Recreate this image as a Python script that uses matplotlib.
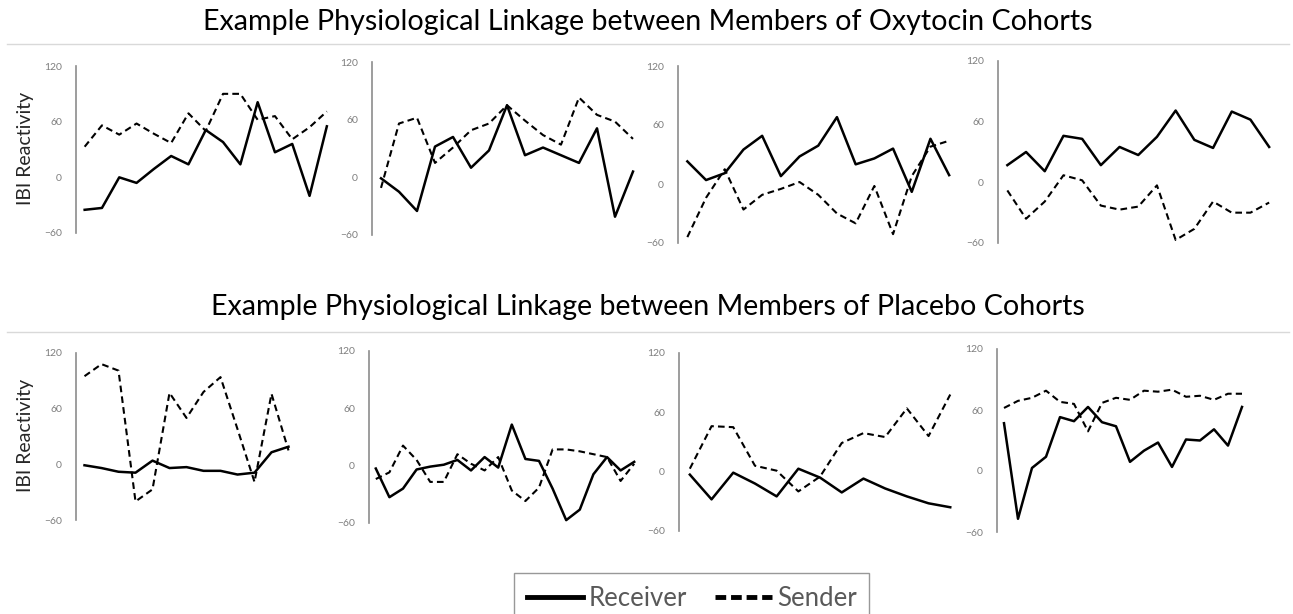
import matplotlib.pyplot as plt
from matplotlib.lines import Line2D

W, H, DPI = 1293, 614, 100
plt.rcParams['font.family'] = ['Lato', 'DejaVu Sans']

# Oxytocin cohorts (top row)
p1_receiver = [-35, -33, 0, -6, 9, 23, 14, 51, 38, 14, 81, 27, 36, -20, 55]
p1_sender = [33, 56, 46, 58, 47, 37, 69, 50, 90, 90, 62, 66, 41, 54, 71]
p2_receiver = [-1, -15, -35, 32, 42, 10, 28, 75, 23, 31, 23, 15, 51, -41, 6]
p2_sender = [-11, 56, 62, 15, 31, 49, 56, 75, 59, 44, 34, 83, 65, 58, 40]
p3_receiver = [23, 4, 11, 35, 49, 8, 28, 39, 68, 20, 26, 36, -8, 46, 9]
p3_sender = [-54, -14, 15, -26, -11, -5, 2, -11, -30, -40, -2, -51, 8, 38, 44]
p4_receiver = [17, 30, 11, 46, 43, 17, 35, 27, 45, 71, 42, 34, 70, 62, 35]
p4_sender = [-8, -36, -19, 7, 2, -23, -27, -24, -3, -57, -46, -19, -30, -30, -20]

# Placebo cohorts (bottom row)
p5_receiver = [-1, -4, -8, -9, 4, -4, -3, -7, -7, -11, -9, 13, 19]
p5_sender = [95, 108, 101, -40, -27, 77, 50, 78, 94, 38, -19, 76, 15]
p6_receiver = [-3, -33, -24, -4, -1, 1, 6, -5, 9, -2, 43, 7, 5, -24, -57, -46, -9, 9, -5, 4]
p6_sender = [-14, -7, 21, 6, -17, -17, 12, 2, -5, 9, -26, -37, -23, 17, 17, 15, 12, 9, -16, 2]
p7_receiver = [-3, -28, -1, -12, -25, 3, -6, -21, -7, -17, -25, -32, -36]
p7_sender = [3, 46, 45, 6, 1, -20, -5, 29, 39, 35, 64, 36, 78]
p8_receiver = [47, -47, 3, 14, 53, 49, 63, 48, 44, 9, 20, 28, 4, 31, 30, 41, 25, 63]
p8_sender = [62, 69, 72, 79, 68, 66, 39, 67, 72, 70, 79, 78, 80, 73, 74, 70, 76, 76]

panels = [
    (p1_receiver, p1_sender), (p2_receiver, p2_sender),
    (p3_receiver, p3_sender), (p4_receiver, p4_sender),
    (p5_receiver, p5_sender), (p6_receiver, p6_sender),
    (p7_receiver, p7_sender), (p8_receiver, p8_sender),
]

# pixel layout: spine x, point spacing, y of 120, y of -60
layout = [
    (76, 17.3, 66, 233), (372, 18.0, 62, 235), (678, 18.7, 66, 243), (998, 18.7, 61, 243),
    (76, 17.0, 353, 520), (369, 13.6, 351, 523), (679, 21.7, 353, 531), (997, 14.0, 349, 532),
]

DASH = (0, (3.2, 2.0))

fig = plt.figure(figsize=(W / DPI, H / DPI), dpi=DPI)

for (recv, send), (x0, dx, ytop, ybot) in zip(panels, layout):
    n = len(recv)
    ax = fig.add_axes([x0 / W, 1 - ybot / H, n * dx / W, (ybot - ytop) / H])
    xs = range(n)
    ax.plot(xs, recv, color='black', lw=1.8, clip_on=False)
    ax.plot(xs, send, color='black', lw=1.5, ls=DASH, clip_on=False)
    ax.set_xlim(-0.5, n - 0.5)
    ax.set_ylim(-60, 120)
    ax.set_yticks([-60, 0, 60, 120])
    ax.set_xticks([])
    ax.tick_params(axis='y', length=0, pad=10, labelsize=7.5, labelcolor='#7f7f7f')
    for s in ['top', 'right', 'bottom']:
        ax.spines[s].set_visible(False)
    ax.spines['left'].set_color('#8c8c8c')
    ax.spines['left'].set_linewidth(1.2)
    ax.patch.set_alpha(0)

# titles + rules
fig.text(648 / W, 1 - 22 / H, 'Example Physiological Linkage between Members of Oxytocin Cohorts',
         ha='center', va='center', fontsize=20.6)
fig.text(648 / W, 1 - 307 / H, 'Example Physiological Linkage between Members of Placebo Cohorts',
         ha='center', va='center', fontsize=20.6)
for yy in (44, 332):
    fig.add_artist(Line2D([7 / W, 1289 / W], [1 - yy / H] * 2, color='#d9d9d9', lw=1))

for yc in (148, 435):
    fig.text(25 / W, 1 - yc / H, 'IBI Reactivity', rotation=90, ha='center', va='center',
             fontsize=14, color='#262626')

handles = [Line2D([], [], color='black', lw=3.5),
           Line2D([], [], color='black', lw=3.5, ls=(0, (2.2, 1.0)))]
fig.legend(handles, ['Receiver', 'Sender'], loc='upper left',
           bbox_to_anchor=(514 / W, 1 - 573 / H), ncol=2, frameon=True, fancybox=False,
           edgecolor='#7f7f7f', fontsize=18.5, labelcolor='#595959', handlelength=2.2,
           handletextpad=0.2, columnspacing=1.1, borderpad=0.5, borderaxespad=0)

fig.savefig('out.png', dpi=DPI)
